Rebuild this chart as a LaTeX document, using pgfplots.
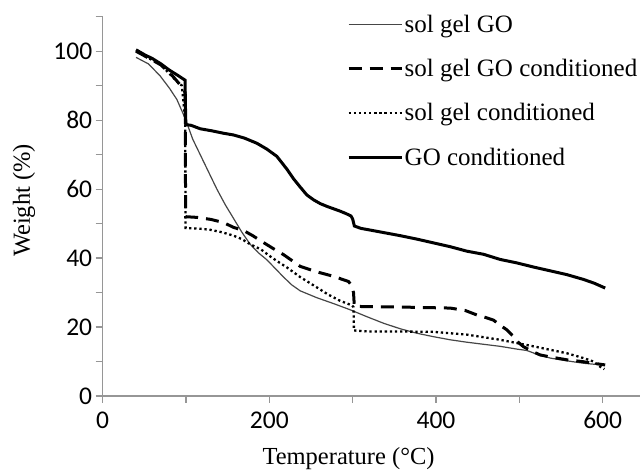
\documentclass[border=0pt]{standalone}
\usepackage{pgfplots}
\pgfplotsset{compat=1.18}
\usepackage{fontspec}
\setmainfont{Liberation Serif}
\newfontfamily\tickfont{Carlito}
\definecolor{axisgray}{RGB}{150,150,150}
\definecolor{thingray}{RGB}{70,70,70}

\begin{document}
\begin{tikzpicture}
\path[use as bounding box] (-102.7pt,-74pt) rectangle (537.3pt,396pt);
\begin{axis}[
  at={(0pt,0pt)}, anchor=south west,
  scale only axis, width=537.3pt, height=379.3pt,
  xmin=0, xmax=644.8, ymin=0, ymax=110,
  axis x line=bottom, axis y line=left,
  axis line style={-, draw=axisgray, line width=1.3pt},
  xtick={0,100,...,600}, xticklabels={0,,200,,400,,600},
  ytick={0,10,...,110}, yticklabels={0,,20,,40,,60,,80,,100,},
  tick align=outside, major tick length=7pt,
  tick style={draw=axisgray, line width=1.2pt},
  /pgf/number format/assume math mode=true,
  ticklabel style={font=\tickfont\fontsize{25.5}{25.5}\selectfont},
  xticklabel style={yshift=-5pt},
  yticklabel style={xshift=0pt},
  xlabel={Temperature (°C)}, ylabel={Weight (\%)},
  label style={font=\fontsize{24.5}{24.5}\selectfont},
  xlabel style={at={(axis cs:295,-18.2)}, anchor=center},
  ylabel style={at={(axis cs:-94.4,56.7)}, anchor=center},
  legend style={at={(axis cs:289.6,111.6)}, anchor=north west, draw=none, fill=none,
    font=\fontsize{25}{25}\selectfont, row sep=22.5pt,
    nodes={inner sep=1.5pt}},
  legend cell align=left,
  legend image code/.code={\draw[#1] (0pt,0pt) -- (53pt,0pt);},
  clip=false,
]
% sol gel GO
\addplot[thingray, line width=1.2pt] coordinates {
(40,98.2) (55,96.3) (69,92.8) (80,89.3) (89,86) (99,80.5) (108,74.5) (117,70)
(127,65) (137,60) (147,55.5) (157,51.5) (167,47.5) (177,44) (187,41.5) (197,39.5)
(207,37) (217,34.5) (227,32.2) (237,30.5) (257,28.5) (277,26.8) (297,25) (317,23)
(337,21.1) (357,19.5) (377,18.2) (397,17.2) (417,16.3) (437,15.6) (457,15)
(477,14.4) (497,13.6) (509,13.2) (520,12.2) (537,11) (557,10.2) (577,9.5) (590,9.2) (602,9)
};
\addlegendentry{sol gel GO}
% sol gel GO conditioned
\addplot[black, line width=3pt, dash pattern=on 13pt off 8pt] coordinates {
(40,100) (55,98) (70,96) (85,92.5) (92,90.5) (99,88) (99.5,52) (113,51.8) (130,51.2)
(145,50.3) (157,48.9) (169,48) (180,46.5) (193,44.5) (205,42.7) (217,41) (237,37.6)
(257,36) (277,34.7) (295,33.2) (299,32) (301,30) (302,26) (320,25.9) (357,25.8)
(417,25.5) (435,24.8) (449,23.5) (459,22.8) (469,22) (477,20.5) (485,19.2) (493,17.2)
(499,15.5) (505,14.3) (515,13) (525,11.9) (540,11.2) (557,10.5) (575,10) (589,9.5) (603,9)
};
\addlegendentry{sol gel GO conditioned}
% sol gel conditioned
\addplot[black, line width=2.3pt, dash pattern=on 2.3pt off 2.8pt] coordinates {
(40,100) (55,98) (70,96) (88,91.5) (95,90) (99,80) (99.5,48.7) (117,48.5) (129,48.2)
(143,47.5) (157,46.5) (167,45.5) (177,44) (190,42.5) (201,40.5) (210,39) (221,37.3)
(237,34.5) (257,31.5) (270,29.5) (285,27.6) (299,26.3) (301,25.8) (301.5,19) (320,18.7)
(357,18.7) (397,18.6) (437,17.8) (477,16.3) (517,14.4) (557,12.4) (577,11) (589,10)
(597,8.5) (602,7.8)
};
\addlegendentry{sol gel conditioned}
% GO conditioned
\addplot[black, line width=3pt] coordinates {
(40,100.4) (50,99) (60,97.8) (70,96.3) (80,94.5) (90,93) (98.8,91.6) (99.3,84) (99.8,78.7)
(106,78.5) (117,77.5) (131,76.9) (145,76.2) (157,75.7) (170,74.8) (185,73.3) (197,71.6)
(209,69.5) (221,65.8) (229,63) (237,60.6) (245,58.3) (253,56.9) (261,55.8) (269,55)
(277,54.3) (285,53.6) (292,52.9) (298,52.2) (300,51.3) (302,49.3) (310,48.6) (317,48.3)
(337,47.4) (357,46.5) (377,45.5) (397,44.4) (417,43.3) (437,42) (457,41.1) (477,39.6)
(497,38.6) (517,37.4) (537,36.3) (557,35.2) (577,33.8) (590,32.7) (603,31.3)
};
\addlegendentry{GO conditioned}
\end{axis}
\end{tikzpicture}
\end{document}
